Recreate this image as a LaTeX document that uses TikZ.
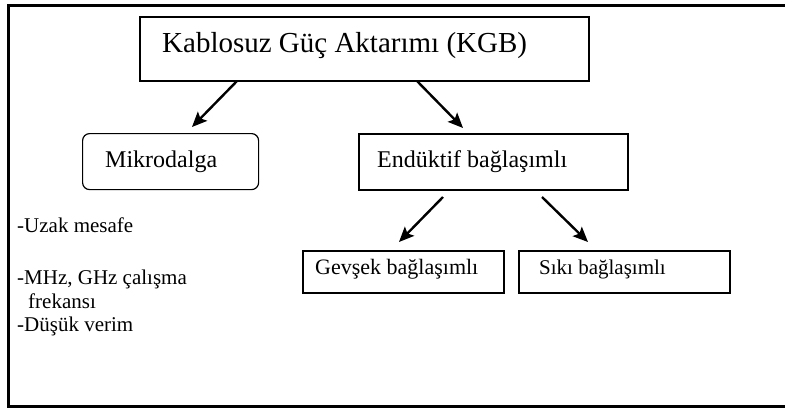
\documentclass[tikz,border=0pt]{standalone}
\usepackage{fontspec}
\setmainfont{Liberation Serif}
\usetikzlibrary{arrows.meta,positioning}

\tikzset{
  frameline/.style={line width=3pt},
  boxnode/.style={draw, line width=1.8pt, rectangle, inner sep=0pt, anchor=north west},
  roundbox/.style={boxnode, rounded corners=7pt, line width=1.2pt},
  txt/.style={inner sep=0pt, anchor=base west},
  arr/.style={line width=2.4pt, -{Stealth[length=15pt,width=13pt,inset=3pt]}},
}

\begin{document}
\begin{tikzpicture}[x=1pt,y=-1pt]
\useasboundingbox (0,0) rectangle (785,408);

% open frame: top, left and bottom edges
\coordinate (ftr) at (785,5);
\coordinate (ftl) at (8,5);
\coordinate (fbl) at (8,406.5);
\coordinate (fbr) at (785,406.5);
\draw[frameline] (ftr) -- (ftl) -- (fbl) -- (fbr);

% boxes
\node[boxnode, minimum width=449pt, minimum height=64pt] (kgb) at (139,16) {};
\node[roundbox, minimum width=176pt, minimum height=56pt] (mikro) at (82,133) {};
\node[boxnode, minimum width=269pt, minimum height=56pt] (endk) at (358,133) {};
\node[boxnode, minimum width=201pt, minimum height=42pt] (gevsek) at (302,250) {};
\node[boxnode, minimum width=211pt, minimum height=42pt] (siki) at (518,250) {};

% box texts
\node[txt, font=\fontsize{29}{33}\selectfont] (tkgb) at (162,52) {Kablosuz Güç Aktarımı (KGB)};
\node[txt, font=\fontsize{24}{28}\selectfont] (tmikro) at (105,167) {Mikrodalga};
\node[txt, font=\fontsize{24}{28}\selectfont] (tendk) at (377,167) {Endüktif bağlaşımlı};
\node[txt, font=\fontsize{22}{26}\selectfont] (tgevsek) at (315,274) {Gevşek bağlaşımlı};
\node[txt, font=\fontsize{21}{25}\selectfont] (tsiki) at (539,274) {Sıkı bağlaşımlı};

% microwave properties
\node[txt, font=\fontsize{21}{25}\selectfont] (p1) at (17,232) {-Uzak mesafe};
\node[txt, font=\fontsize{21}{25}\selectfont] (p2) at (17,284) {-MHz, GHz çalışma};
\node[txt, font=\fontsize{21}{25}\selectfont] (p3) at (28,308) {frekansı};
\node[txt, font=\fontsize{21}{25}\selectfont] (p4) at (17,331) {-Düşük verim};

% arrow start and end points
\coordinate (a1s) at (237,81);
\coordinate (a1e) at (192,127);
\coordinate (a2s) at (417,81);
\coordinate (a2e) at (463,128);
\coordinate (a3s) at (443,197);
\coordinate (a3e) at (399,242);
\coordinate (a4s) at (542,197);
\coordinate (a4e) at (588,242);

\draw[arr] (a1s) -- (a1e);
\draw[arr] (a2s) -- (a2e);
\draw[arr] (a3s) -- (a3e);
\draw[arr] (a4s) -- (a4e);
\end{tikzpicture}
\end{document}
